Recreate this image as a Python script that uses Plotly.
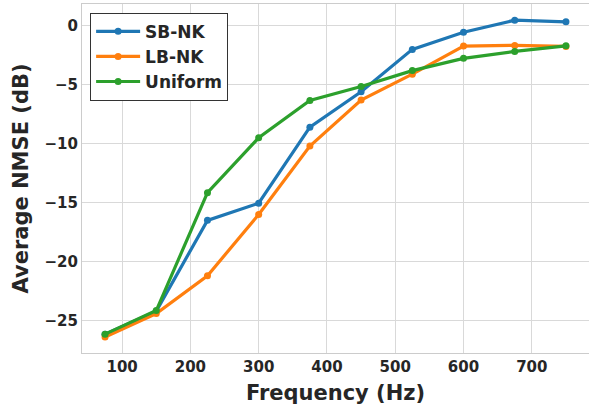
import plotly.graph_objects as go

freq = [75, 150, 225, 300, 375, 450, 525, 600, 675, 750]
sb_nk = [-26.15, -24.2, -16.5, -15.05, -8.6, -5.6, -2.0, -0.55, 0.48, 0.34]
lb_nk = [-26.4, -24.4, -21.2, -16.0, -10.2, -6.3, -4.1, -1.72, -1.66, -1.75]
uniform = [-26.15, -24.15, -14.15, -9.5, -6.33, -5.15, -3.8, -2.76, -2.17, -1.7]
x_ticks = [100, 200, 300, 400, 500, 600, 700]
y_ticks = [0, -5, -10, -15, -20, -25]

series = [("SB-NK", sb_nk, "#1f77b4"), ("LB-NK", lb_nk, "#ff7f0e"), ("Uniform", uniform, "#2ca02c")]

fig = go.Figure()
for name, vals, col in series:
    fig.add_trace(go.Scatter(x=freq, y=vals, name=name, mode="lines+markers",
                             line=dict(color=col, width=3.2),
                             marker=dict(color=col, size=7),
                             legendgroup=name))

font_fam = "DejaVu Sans"
txt = "#262626"
fig.update_layout(
    width=589, height=407,
    margin=dict(l=82, r=0, t=4, b=54),
    paper_bgcolor="white", plot_bgcolor="white",
    font=dict(family=font_fam, color=txt),
    showlegend=True,
    legend=dict(x=0.016, y=0.975, xanchor="left", yanchor="top",
                bgcolor="white", bordercolor="#333333", borderwidth=1,
                font=dict(size=17, family=font_fam, color=txt, weight="bold"),
                traceorder="grouped", tracegroupgap=0, itemwidth=44),
    xaxis=dict(range=[41.25, 783.75], tickvals=x_ticks,
               title=dict(text="<b>Frequency (Hz)</b>", font=dict(size=21, color=txt), standoff=10),
               tickfont=dict(size=15, color=txt, weight="bold"),
               showgrid=True, gridcolor="#d9d9d9", gridwidth=1.2,
               showline=True, linecolor="#cccccc", linewidth=1.2, mirror=True,
               zeroline=False, ticks="", ticklen=0),
    yaxis=dict(range=[-27.75, 1.85], tickvals=y_ticks,
               ticktext=["0", "\u22125", "\u221210", "\u221215", "\u221220", "\u221225"],
               title=dict(text="<b>Average NMSE (dB)</b>", font=dict(size=21, color=txt), standoff=10),
               tickfont=dict(size=15, color=txt, weight="bold"),
               showgrid=True, gridcolor="#d9d9d9", gridwidth=1.2,
               showline=True, linecolor="#cccccc", linewidth=1.2, mirror=True,
               zeroline=False, ticks="", ticklen=0),
)
fig.write_html("out.html")
